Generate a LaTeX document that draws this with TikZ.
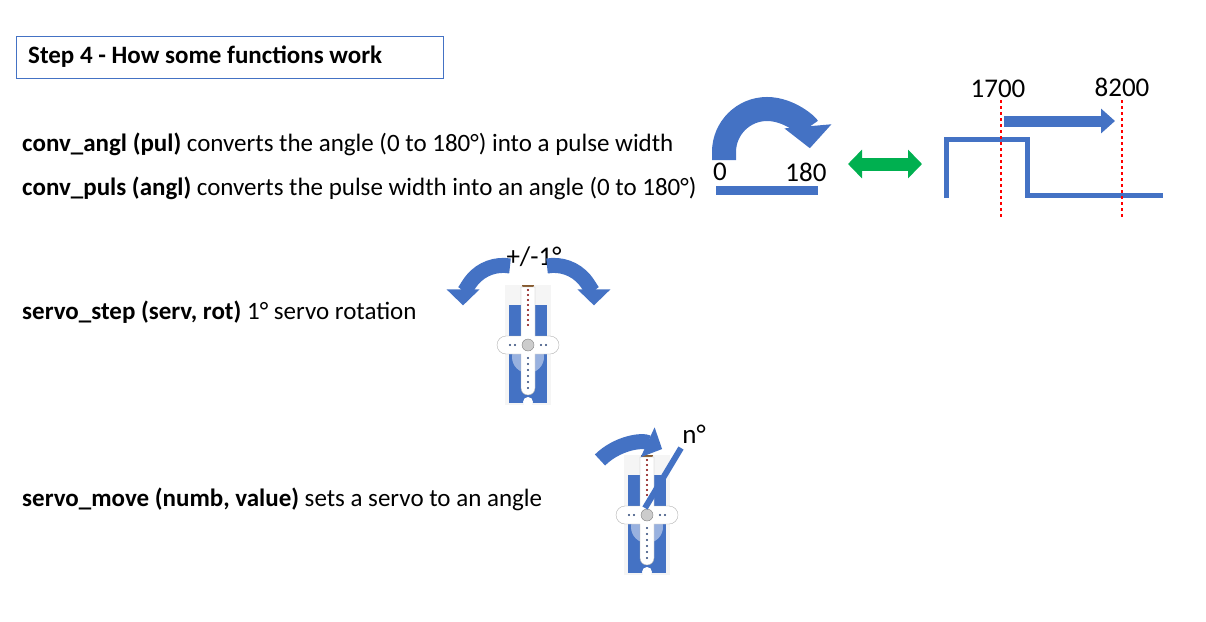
\documentclass[tikz,border=0pt]{standalone}
\usepackage{fontspec}
\setmainfont{Carlito}
\usetikzlibrary{arrows.meta}
\definecolor{sblue}{RGB}{68,114,196}
\definecolor{sgreen}{RGB}{0,176,80}
\begin{document}
\begin{tikzpicture}[x=1pt,y=-1pt,
  txt/.style={anchor=west,inner sep=0pt,font=\fontsize{25}{28}\selectfont},
  num/.style={inner sep=0pt,font=\fontsize{27}{30}\selectfont},
  servo/.pic={
    \fill[gray!8] (-23,-60) rectangle (23,60);
    \fill[sblue] (-19,-40) rectangle (19,58);
    \fill[sblue!55] (0,12) circle (16);
    \fill[brown!70!black] (-6,-60) -- (6,-60) -- (3,-50) -- (-3,-50) -- cycle;
    \fill[white,draw=gray!60] (-7,-58) -- (7,-58) -- (7,-9) -- (22,-9) arc (-90:90:9) -- (7,9) -- (7,43) arc (0:180:7) -- (-7,9) -- (-22,9) arc (90:270:9) -- (-7,-9) -- cycle;
    \fill[gray!40] (0,0) circle (6);
    \draw[gray] (0,0) circle (6);
    \fill[white] (0,57) circle (5);
    \foreach \yy in {-55,-50,...,-20} \fill[red!50!black] (0,\yy) circle (1.1);
    \foreach \yy in {13,19,...,43} \fill[sblue!60!black] (0,\yy) circle (1.1);
    \foreach \xx in {-18,-13,13,18} \fill[sblue!60!black] (\xx,0) circle (1.1);
  }]
\useasboundingbox (0,0) rectangle (1206,621);
\node[draw=sblue,line width=0.8pt,minimum width=427pt,minimum height=42pt,anchor=north west,inner sep=0pt] (title) at (16,36) {};
\node[txt,font=\fontsize{25}{28}\selectfont\bfseries] (tt) at (28,57) {Step 4 - How some functions work};

\node[txt] (t1) at (22,144) {\textbf{conv\_angl (pul)} converts the angle (0 to 180°) into a pulse width};
\node[txt] (t2) at (22,188) {\textbf{conv\_puls (angl)} converts the pulse width into an angle (0 to 180°)};
\node[txt] (t3) at (22,312) {\textbf{servo\_step (serv, rot)} 1° servo rotation};
\node[txt] (t4) at (22,499) {\textbf{servo\_move (numb, value)} sets a servo to an angle};

% semicircle arrow
\draw[sblue,line width=24pt,-{Triangle[width=46pt,length=22pt]}] (724,160) -- (724,152) arc (180:355:43);
\node[num] (n0) at (720,172) {0};
\node[num] (n180) at (806,172) {180};
\fill[sblue] (716,186) rectangle (818,195);

% green double arrow
\draw[sgreen,line width=13pt,{Triangle[width=28pt,length=14pt]}-{Triangle[width=28pt,length=14pt]}] (848,164) -- (922,164);

% pulse
\draw[sblue,line width=5pt] (946,198) -- (946,139) -- (1027,139) -- (1027,195) -- (1163,195);
\draw[red,dashed,line width=1.5pt] (1001,100) -- (1001,218) (1122,100) -- (1122,218);
\draw[sblue,line width=11pt,-{Triangle[width=24pt,length=14pt]}] (1004,121) -- (1115,121);
\node[num] (n1700) at (998,89) {1700};
\node[num] (n8200) at (1122,87) {8200};

% servo step
\pic at (528,345) {servo};
\node[num] (pm) at (534,257) {+/-1°};
\draw[sblue,line width=15pt,-{Triangle[width=32pt,length=16pt]}] (510,266) arc (-80:-180:40);
\draw[sblue,line width=15pt,-{Triangle[width=32pt,length=16pt]}] (547,266) arc (-100:0:40);

% servo move
\pic at (647,515) {servo};
\draw[sblue,line width=6pt] (645,508) -- (681,448);
\draw[sblue,line width=15pt,-{Triangle[width=32pt,length=16pt]}] (600,460) arc (-135:-65:55);
\node[num] (nd) at (694,434) {n°};
\end{tikzpicture}
\end{document}
